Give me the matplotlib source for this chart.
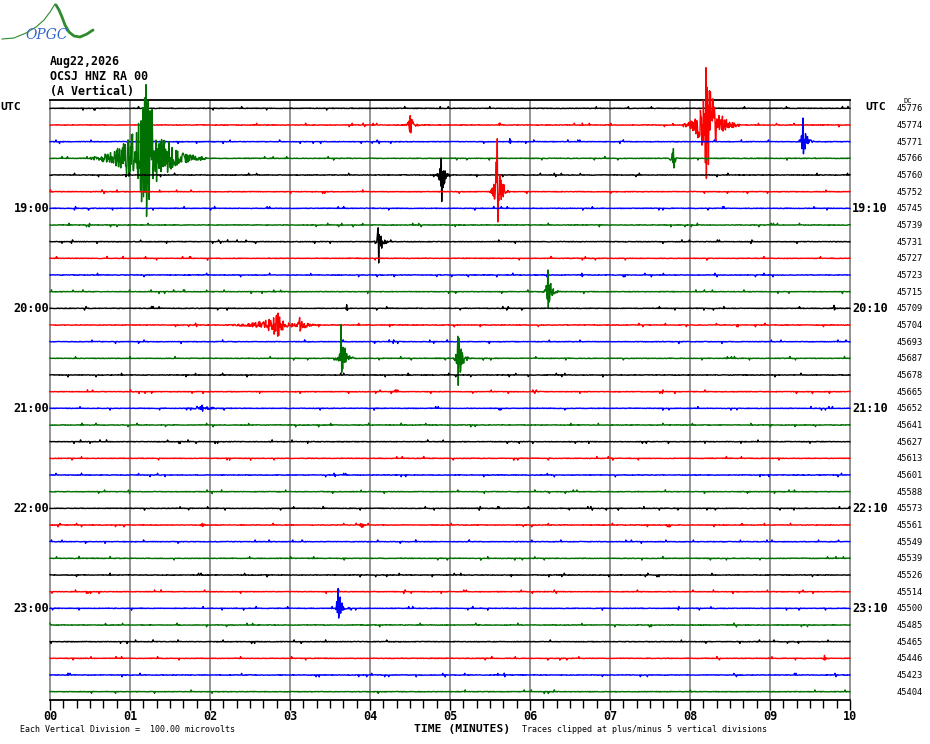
import matplotlib
matplotlib.use("Agg")
import matplotlib.pyplot as plt
from matplotlib.ticker import MultipleLocator
import numpy as np

MONO = "DejaVu Sans Mono"
TRACE_COLORS = ["black", "#FF0000", "#0000FF", "#007000"]
GRID = "#808080"

header_lines = ["Aug22,2026", "OCSJ HNZ RA 00", "(A Vertical)"]
n_traces = 36
left_hours = ["UTC", "19:00", "20:00", "21:00", "22:00", "23:00"]
right_hours = ["UTC", "19:10", "20:10", "21:10", "22:10", "23:10"]
dc_offsets = [45776, 45774, 45771, 45766, 45760, 45752, 45745, 45739, 45731,
              45727, 45723, 45715, 45709, 45704, 45693, 45687, 45678, 45665,
              45652, 45641, 45627, 45613, 45601, 45588, 45573, 45561, 45549,
              45539, 45526, 45514, 45500, 45485, 45465, 45446, 45423, 45404]
minute_labels = ["00", "01", "02", "03", "04", "05", "06", "07", "08", "09", "10"]

# events: trace row, start / peak / end (minutes), up / down swing (pixels)
ev_row   = [3,    1,    4,    5,    8,    11,   1,    2,    3,    13,   13,   12,   15,   15,   18,   25,   25,   30,   33,   12,   2]
ev_start = [0.50, 4.40, 4.82, 5.50, 4.04, 6.16, 7.92, 9.35, 7.72, 2.15, 3.00, 3.69, 3.57, 5.04, 1.70, 3.80, 1.85, 3.54, 9.60, 9.78, 5.72]
ev_peak  = [1.20, 4.50, 4.89, 5.59, 4.10, 6.22, 8.20, 9.41, 7.79, 2.85, 3.12, 3.71, 3.64, 5.10, 1.90, 3.90, 1.90, 3.60, 9.68, 9.80, 5.75]
ev_end   = [1.95, 4.66, 5.02, 5.75, 4.25, 6.38, 8.62, 9.56, 7.88, 3.15, 3.40, 3.74, 3.80, 5.26, 2.30, 4.00, 1.98, 3.78, 9.76, 9.83, 5.80]
ev_up    = [74,   10,   17,   54,   15,   23,   58,   25,   11,   12,   7,    5,    34,   27,   3,    3,    2,    21,   3,    3,    4]
ev_down  = [60,   10,   32,   36,   27,   19,   56,   15,   14,   12,   7,    4,    16,   29,   3,    3,    2,    12,   2,    3,    2]

PX = 600.0 / n_traces          # pixels per trace row
N = 1600                       # samples per 10-minute line (2 per pixel)


def hash_noise(k, seed):
    v = np.sin(k * 12.9898 + seed * 78.233) * 43758.5453
    return (v - np.floor(v)) * 2.0 - 1.0


t = np.linspace(0, 10, N)
k = np.arange(N)

fig = plt.figure(figsize=(9.3, 7.44), dpi=100)
ax = fig.add_axes([50 / 930, 44 / 744, 800 / 930, 600 / 744])

for m in range(1, 10):
    ax.axvline(m, color=GRID, lw=1.2, zorder=1)

for i in range(n_traces):
    h = hash_noise(k, i + 1)
    h2 = hash_noise(k, i + 101)
    sig = 0.3 * h + np.where(np.abs(h2) > 0.985, 1.6 * np.sign(h), 0.0)
    for r, ts, tp, te, up, dn in zip(ev_row, ev_start, ev_peak, ev_end, ev_up, ev_down):
        if r != i:
            continue
        env = np.zeros(N)
        rise = (t >= ts) & (t < tp)
        env[rise] = np.exp(-3.8 * (tp - t[rise]) / (tp - ts))
        fall = (t >= tp) & (t <= te)
        env[fall] = np.exp(-3.8 * (t[fall] - tp) / (te - tp))
        car = hash_noise(k, i * 7 + ts)
        ip = np.argmin(np.abs(t - tp))
        car[ip], car[ip + 1] = 1.0, -1.0
        sig += env * np.where(car > 0, car * up, car * dn)
    y = -i + sig / PX
    ax.plot(t, y, color=TRACE_COLORS[i % 4], lw=1.0, zorder=3, clip_on=False)

ax.set_xlim(0, 10)
ax.set_ylim(-n_traces + 0.5, 0.5)
ax.set_yticks([])
ax.xaxis.set_major_locator(MultipleLocator(1))
ax.xaxis.set_minor_locator(MultipleLocator(1 / 6))
ax.set_xticks(range(11))
ax.set_xticklabels(minute_labels, family=MONO, fontweight="bold", fontsize=8.5)
ax.tick_params(axis="x", which="major", length=7, width=1, pad=0.5, color="black")
ax.tick_params(axis="x", which="minor", length=6, width=1, color="black")
for s in ("left", "right"):
    ax.spines[s].set_color(GRID)
    ax.spines[s].set_linewidth(1.2)
ax.spines["top"].set_linewidth(1.3)
ax.spines["bottom"].set_linewidth(1.3)

# overlay in pixel coordinates for all the labels
ov = fig.add_axes([0, 0, 1, 1], zorder=5)
ov.set_xlim(0, 930)
ov.set_ylim(744, 0)
ov.axis("off")

for j, s in enumerate(header_lines):
    ov.text(50, 61 + 15 * j, s, family=MONO, fontweight="bold", fontsize=8.4,
            ha="left", va="center")

for j in range(6):
    yy = 100 + PX * (6 * j + 0.5)
    if j == 0:
        ov.text(0, yy - 1, "UTC", family=MONO, fontweight="bold", fontsize=8.2, ha="left", va="center")
        ov.text(865, yy - 1, "UTC", family=MONO, fontweight="bold", fontsize=8.2, ha="left", va="center")
    else:
        ov.text(49, yy, left_hours[j], family=MONO, fontweight="bold", fontsize=8.6, ha="right", va="center")
        ov.text(852, yy, right_hours[j], family=MONO, fontweight="bold", fontsize=8.6, ha="left", va="center")

for i, v in enumerate(dc_offsets):
    ov.text(897, 100 + PX * (i + 0.5) + 0.5, str(v), family=MONO, fontsize=6.3, ha="left", va="center")
ov.text(903, 101, "DC", family=MONO, fontsize=5, ha="left", va="center")

ov.text(462, 729, "TIME (MINUTES)", family=MONO, fontweight="bold", fontsize=8.2, ha="center", va="center")
ov.text(20, 730, "Each Vertical Division =  100.00 microvolts", family=MONO, fontsize=6, ha="left", va="center")
ov.text(522, 730, "Traces clipped at plus/minus 5 vertical divisions", family=MONO, fontsize=6, ha="left", va="center")

# OPGC logo
lx = [2, 14, 26, 36, 44, 50, 55]
ly = [39, 38, 33, 27, 20, 12, 4]
ov.plot(lx, ly, color="#2E8B2E", lw=0.8)
lx2 = [56, 59, 62, 65, 69, 74, 80, 87, 93]
ly2 = [5, 10, 17, 25, 32, 36, 37, 34, 30]
ov.plot(lx2, ly2, color="#2E8B2E", lw=2.0, solid_capstyle="round")
ov.text(47, 35, "OPGC", color="#3366CC", fontsize=10, style="italic",
        ha="center", va="center", family="DejaVu Serif")

fig.savefig("out.png", dpi=100)
